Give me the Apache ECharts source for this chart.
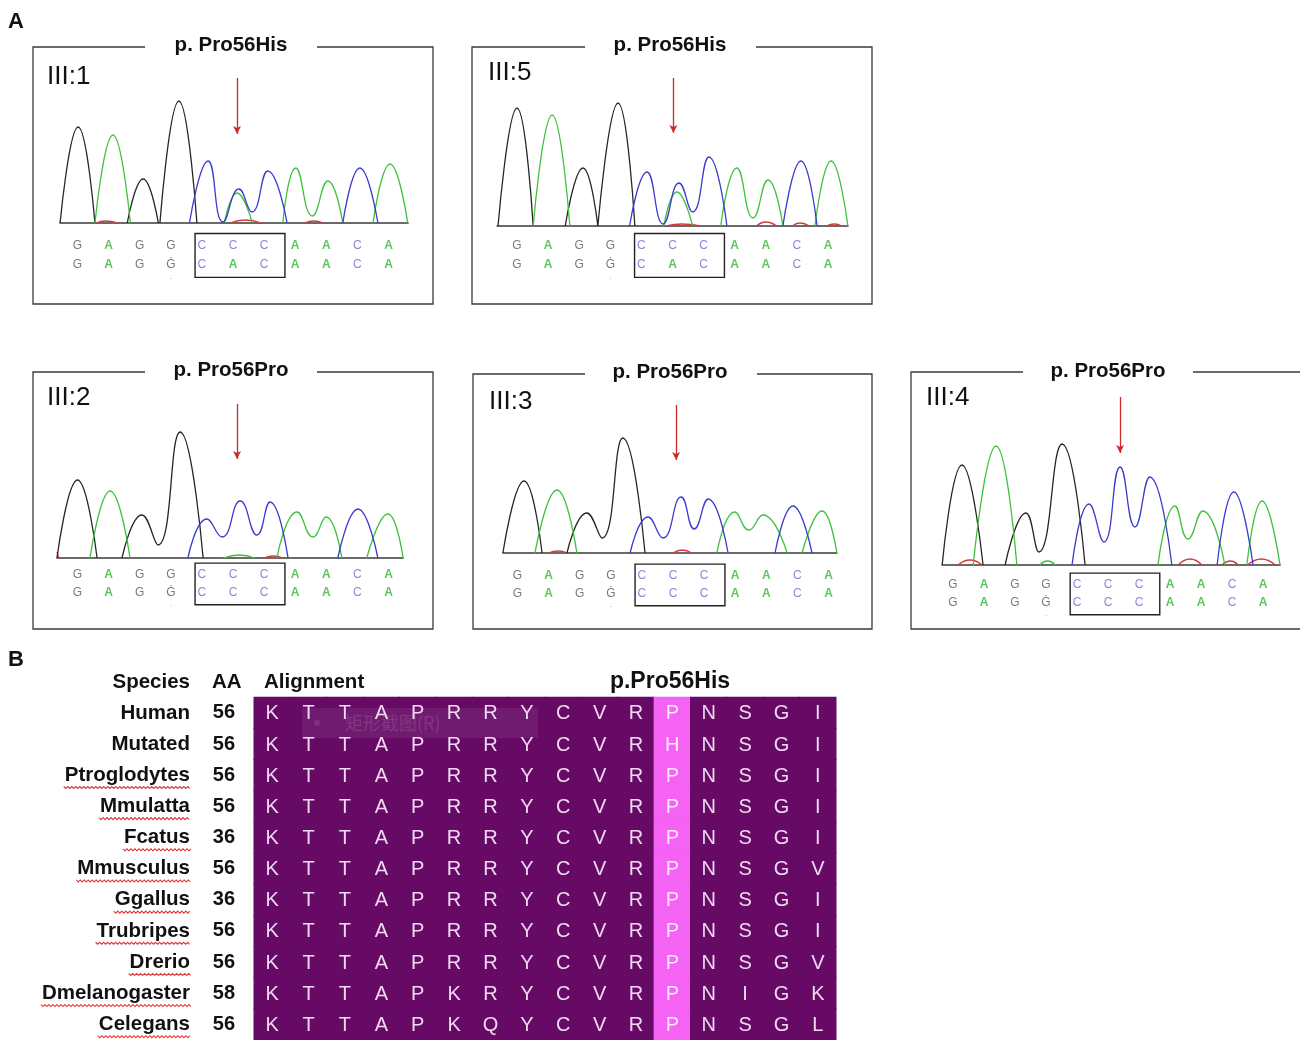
<!DOCTYPE html>
<html><head><meta charset="utf-8">
<script src="https://cdn.jsdelivr.net/npm/echarts@6/dist/echarts.min.js"></script>
<style>html,body{margin:0;padding:0;background:#fff}#c{width:1300px;height:1040px}</style>
</head><body><div id="c"></div>
<script>
// ---------------- DATA ----------------
const panelTitles = ['p. Pro56His','p. Pro56His','p. Pro56Pro','p. Pro56Pro','p. Pro56Pro'];
const panelLabels = ['III:1','III:5','III:2','III:3','III:4'];
const callRow1 = ['G','A','G','G','C','C','C','A','A','C','A'];
const callRowHis = ['G','A','G','Ġ','C','A','C','A','A','C','A'];
const callRowPro = ['G','A','G','Ġ','C','C','C','A','A','C','A'];
const callRow2 = [callRowHis, callRowHis, callRowPro, callRowPro, callRowPro];
const boxedBases = [3.78, 6.67];          // base index range of the boxed codon
const arrowPos = [5.13, 5.03, 5.13, 5.10, 5.39];
const arrowTop = [145, 148, 154, 148, 168];
const arrowTip = [89, 93, 99, 93, 112];

// traces: segments of [base position, signal]
const p1G = [[[-0.56,0],[0.02,96],[0.56,0]], [[1.6,0],[2.11,44],[2.6,0]], [[2.65,0],[3.26,122],[3.84,0]]];
const p1A = [[[0.56,0],[1.14,88],[1.7,0]], [[4.72,0],[5.13,30],[5.62,0]], [[6.6,0],[7.02,55],[7.55,7],[8.05,42],[8.53,0]], [[9.5,0],[10.05,59],[10.62,0]]];
const p1C = [[[3.6,0],[4.2,62],[4.68,1],[5.19,34],[5.61,11],[6.12,52],[6.74,0]], [[8.53,0],[9.08,55],[9.66,0]]];
const p1T = [[[0.6,0],[0.9,2],[1.3,0]], [[4.9,0],[5.4,3],[5.9,0]], [[7.3,0],[7.6,2],[7.9,0]]];

const p2G = [[[-0.61,0],[0,118],[0.52,0]], [[1.55,0],[2.12,58],[2.6,0]], [[2.6,0],[3.25,123],[3.79,0]]];
const p2A = [[[0.52,0],[1.13,111],[1.7,0]], [[4.72,0],[5.14,34],[5.65,0]], [[6.55,0],[7.07,58],[7.59,8],[8.07,46],[8.55,0]], [[9.58,0],[10.1,65],[10.64,0]]];
const p2C = [[[3.62,0],[4.18,54],[4.7,2],[5.21,43],[5.65,14],[6.17,69],[6.75,0]], [[8.55,0],[9.13,65],[9.65,0]]];
const p2T = [[[4.8,0],[5.3,2],[5.9,0]], [[7.7,0],[8.0,4],[8.35,0]], [[8.85,0],[9.1,3],[9.4,0]], [[9.95,0],[10.2,2],[10.45,0]]];

const p3G = [[[-0.66,0],[0,78],[0.63,0]], [[1.43,0],[2.07,43],[2.59,13],[3.3,126],[4.04,0]]];
const p3A = [[[0.4,0],[1.05,67],[1.69,0]], [[4.7,0],[5.2,3],[5.7,0]], [[6.41,0],[7.06,46],[7.57,21],[7.99,41],[8.5,0]], [[9.3,0],[9.98,44],[10.47,0]]];
const p3C = [[[3.55,0],[4.16,39],[4.65,21],[5.23,57],[5.77,23],[6.19,56],[6.77,0]], [[8.37,0],[9.02,49],[9.66,0]]];
const p3T = [[[-0.66,6],[-0.6,0]], [[6.0,0],[6.3,2],[6.6,0]]];

const p4G = [[[-0.47,0],[0.21,72],[0.79,0]], [[1.59,0],[2.23,40],[2.72,15],[3.39,115],[4.1,0]]];
const p4A = [[[0.56,0],[1.27,63],[1.91,0]], [[6.41,0],[6.99,41],[7.44,23],[7.89,38],[8.67,0]], [[9.15,0],[9.79,42],[10.27,0]]];
const p4C = [[[3.62,0],[4.2,36],[4.68,15],[5.26,56],[5.68,24],[6.13,54],[6.77,0]], [[8.28,0],[8.86,47],[9.47,0]]];
const p4T = [[[1.0,0],[1.3,2],[1.6,0]], [[5.0,0],[5.3,3],[5.6,0]]];

const p5G = [[[-0.35,0],[0.29,100],[0.97,0]], [[1.68,0],[2.35,52],[2.77,13],[3.52,121],[4.26,0]]];
const p5A = [[[0.65,0],[1.39,119],[2.06,0]], [[2.8,0],[3.05,4],[3.3,0]], [[6.61,0],[7.16,59],[7.58,26],[8.06,54],[8.77,0]], [[9.48,0],[9.97,64],[10.55,0]]];
const p5C = [[[3.84,0],[4.39,61],[4.87,23],[5.39,98],[5.87,38],[6.35,88],[7.06,0]], [[8.52,0],[9.06,73],[9.68,0]]];
const p5T = [[[0.16,0],[0.55,5],[0.94,0]], [[7.26,0],[7.65,6],[8.03,0]], [[8.68,0],[8.95,4],[9.2,0]], [[9.5,0],[9.95,6],[10.4,0]]];

const traceG = [p1G,p2G,p3G,p4G,p5G];
const traceA = [p1A,p2A,p3A,p4A,p5A];
const traceC = [p1C,p2C,p3C,p4C,p5C];
const traceT = [p1T,p2T,p3T,p4T,p5T];

// Panel B
const species = ['Human','Mutated','Ptroglodytes','Mmulatta','Fcatus','Mmusculus','Ggallus','Trubripes','Drerio','Dmelanogaster','Celegans'];
const aaNumber = ['56','56','56','56','36','56','36','56','56','58','56'];
const alignment = ['KTTAPRRYCVRPNSGI','KTTAPRRYCVRHNSGI','KTTAPRRYCVRPNSGI','KTTAPRRYCVRPNSGI','KTTAPRRYCVRPNSGI','KTTAPRRYCVRPNSGV','KTTAPRRYCVRPNSGI','KTTAPRRYCVRPNSGI','KTTAPRRYCVRPNSGV','KTTAPKRYCVRPNIGK','KTTAPKQYCVRPNSGL'];
const highlightCol = 11;
const misspelled = ['Ptroglodytes','Mmulatta','Fcatus','Mmusculus','Ggallus','Trubripes','Drerio','Dmelanogaster','Celegans'];

// ---------------- LAYOUT ----------------
const L = [
 {frame:[33,47,433,304], titleX:231, titleY:45, gap:[145,317], label:[47,77], base:223, x0:77.5, s:31.1, xr:[-0.56,10.63], rows:[246,265]},
 {frame:[472,47,872,304], titleX:670, titleY:45, gap:[585,756], label:[488,73], base:226, x0:517, s:31.1, xr:[-0.64,10.64], rows:[246,265]},
 {frame:[33,372,433,629], titleX:231, titleY:370, gap:[145,317], label:[47,398], base:558, x0:77.5, s:31.1, xr:[-0.66,10.47], rows:[575,593]},
 {frame:[473,374,872,629], titleX:670, titleY:372, gap:[585,757], label:[489,402], base:553, x0:517.5, s:31.1, xr:[-0.47,10.27], rows:[576,594]},
 {frame:[911,372,1330,629], titleX:1108, titleY:371, gap:[1023,1193], label:[926,398], base:565, x0:953, s:31.0, xr:[-0.35,10.55], rows:[585,603]}
];
const YMAX = 175;
const FONT = '"Liberation Sans", Arial, sans-serif';
const traceColors = {G:'#262626', A:'#3cc23c', C:'#3b3bcc', T:'#d43a3a'};
const textColors = {G:'#585858', 'Ġ':'#585858', A:'#33b833', C:'#6a6acc', '.':'#585858'};
const PURPLE = '#660a66', PINK = '#f463f4';

function flat(segs){
  const out = [];
  segs.forEach((seg,k)=>{ if(k>0) out.push([seg[0][0],'-']); seg.forEach(p=>out.push(p)); });
  return out;
}

const grids=[], xAxes=[], yAxes=[], series=[], graphics=[];
L.forEach((p,k)=>{
  const left = p.x0 + p.xr[0]*p.s, width = (p.xr[1]-p.xr[0])*p.s;
  grids.push({left:left, top:p.base-YMAX, width:width, height:YMAX});
  xAxes.push({type:'value', gridIndex:2*k, min:p.xr[0], max:p.xr[1], axisLabel:{show:false}, axisTick:{show:false}, splitLine:{show:false},
     axisLine:{show:true, lineStyle:{color:'#3a3a3a', width:1.6}}});
  yAxes.push({type:'value', gridIndex:2*k, min:0, max:YMAX, show:false});
  const dy = p.rows[1]-p.rows[0];
  grids.push({left:left, top:p.rows[0]-0.8*dy, width:width, height:2.6*dy});
  xAxes.push({type:'value', gridIndex:2*k+1, min:p.xr[0], max:p.xr[1], show:false});
  yAxes.push({type:'value', gridIndex:2*k+1, min:-0.8, max:1.8, inverse:true, show:false});

  [['G',traceG],['A',traceA],['C',traceC],['T',traceT]].forEach(([b,arr])=>{
    series.push({type:'line', xAxisIndex:2*k, yAxisIndex:2*k, data:flat(arr[k]), smooth:0.5, symbol:'none', showSymbol:false,
      connectNulls:false, clip:false, silent:true, z: b==='T'?1:3, lineStyle:{color:traceColors[b], width:1.3}});
  });
  series.push({type:'line', xAxisIndex:2*k, yAxisIndex:2*k, data:[], silent:true,
    markLine:{silent:true, symbol:['none','arrow'], symbolSize:[6,8], label:{show:false},
      lineStyle:{color:'#cc2a2a', width:1.3, type:'solid'},
      data:[[{coord:[arrowPos[k], arrowTop[k]]},{coord:[arrowPos[k], arrowTip[k]]}]]}});
  const pts = [];
  callRow1.forEach((b,i)=>pts.push({value:[i,0,b], label:{color:textColors[b], fontWeight: b==='A'?'bold':'normal'}}));
  callRow2[k].forEach((b,i)=>pts.push({value:[i,1,b], label:{color:textColors[b], fontWeight: b==='A'?'bold':'normal'}}));
  callRow2[k].forEach((b,i)=>{ if(b==='Ġ') pts.push({value:[i,1.6,'.'], label:{color:'#777', fontSize:8}}); });
  series.push({type:'scatter', xAxisIndex:2*k+1, yAxisIndex:2*k+1, data:pts, symbolSize:0, silent:true,
    label:{show:true, position:'inside', formatter:(d)=>d.value[2], fontSize:12, fontFamily:FONT},
    markArea:{silent:true, itemStyle:{color:'rgba(0,0,0,0)', borderColor:'#222', borderWidth:1.4},
      data:[[{coord:[boxedBases[0],-0.66]},{coord:[boxedBases[1],1.65]}]]}});

  const f = p.frame;
  graphics.push({type:'rect', shape:{x:f[0], y:f[1], width:f[2]-f[0], height:f[3]-f[1]}, style:{fill:'none', stroke:'#3a3a3a', lineWidth:1.3}, z:-10});
  graphics.push({type:'rect', shape:{x:p.gap[0], y:f[1]-4, width:p.gap[1]-p.gap[0], height:8}, style:{fill:'#fff'}, z:-9});
  graphics.push({type:'text', x:p.titleX, y:p.titleY, style:{text:panelTitles[k], font:'bold 20.5px '+FONT, fill:'#111', align:'center', verticalAlign:'middle'}, z:-8});
  graphics.push({type:'text', x:p.label[0], y:p.label[1], style:{text:panelLabels[k], font:'26px '+FONT, fill:'#111', align:'left', verticalAlign:'middle'}, z:-8});
});

// Panel B grid
const bIdx = 10;
grids.push({left:254, top:697.3, width:582, height:31.4*11});
xAxes.push({type:'category', gridIndex:bIdx, data:alignment[0].split('').map((_,i)=>String(i)), show:false});
yAxes.push({type:'category', gridIndex:bIdx, data:species, inverse:true, axisLine:{show:false}, axisTick:{show:false},
  axisLabel:{margin:64, fontSize:20.5, fontWeight:'bold', fontFamily:FONT, color:'#111'}});
yAxes.push({type:'category', gridIndex:bIdx, data:species, inverse:true, position:'left', axisLine:{show:false}, axisTick:{show:false},
  axisLabel:{margin:19, fontSize:20, fontWeight:'bold', fontFamily:FONT, color:'#111', formatter:(v,i)=>aaNumber[i]}});
const cells = [];
alignment.forEach((row,r)=>row.split('').forEach((ch,c)=>cells.push([c,r])));
series.push({type:'custom', xAxisIndex:bIdx, yAxisIndex:bIdx, data:cells, silent:true, encode:{x:0,y:1},
  renderItem:(params, api)=>{
    const c = api.value(0), r = api.value(1);
    const pt = api.coord([c,r]); const sz = api.size([1,1]);
    const hl = c===highlightCol;
    return {type:'group', children:[
      {type:'rect', shape:{x:pt[0]-sz[0]/2-0.5, y:pt[1]-sz[1]/2-0.5, width:sz[0]+1, height:sz[1]+1}, style:{fill: hl?PINK:PURPLE}},
      {type:'text', style:{text:alignment[r][c], x:pt[0], y:pt[1]+1, align:'center', verticalAlign:'middle', fill: hl?'#ffe6ff':'#f2d8f2', font:'20px '+FONT}, z2:5}
    ]};
  }});

graphics.push({type:'text', x:8, y:22, style:{text:'A', font:'bold 22px '+FONT, fill:'#111', verticalAlign:'middle'}});
graphics.push({type:'text', x:8, y:660, style:{text:'B', font:'bold 22px '+FONT, fill:'#111', verticalAlign:'middle'}});
graphics.push({type:'text', x:190, y:682, style:{text:'Species', font:'bold 20.5px '+FONT, fill:'#111', align:'right', verticalAlign:'middle'}});
graphics.push({type:'text', x:212, y:682, style:{text:'AA', font:'bold 20.5px '+FONT, fill:'#111', align:'left', verticalAlign:'middle'}});
graphics.push({type:'text', x:264, y:682, style:{text:'Alignment', font:'bold 20.5px '+FONT, fill:'#111', align:'left', verticalAlign:'middle'}});
graphics.push({type:'text', x:670, y:682, style:{text:'p.Pro56His', font:'bold 23px '+FONT, fill:'#111', align:'center', verticalAlign:'middle'}});
graphics.push({type:'rect', shape:{x:302, y:708, width:236, height:30}, style:{fill:'rgba(255,255,255,0.07)'}, z:20});
graphics.push({type:'circle', shape:{cx:317, cy:723, r:3}, style:{fill:'rgba(255,255,255,0.10)'}, z:20});
graphics.push({type:'text', x:345, y:723, style:{text:'矩形截图(R)', font:'18px "Noto Sans CJK SC"', fill:'rgba(255,255,255,0.12)', verticalAlign:'middle'}, z:20});

const chart = echarts.init(document.getElementById('c'), null, {renderer:'canvas'});
chart.setOption({animation:false, backgroundColor:'#fff', grid:grids, xAxis:xAxes, yAxis:yAxes, series:series, graphic:graphics});

const ctx = document.createElement('canvas').getContext('2d');
ctx.font = 'bold 20.5px "Liberation Sans"';
const waves = [];
misspelled.forEach(name=>{
  const y = chart.convertToPixel({yAxisIndex:bIdx}, name) + 12;
  const w = ctx.measureText(name).width;
  const x1 = 191, x0 = x1 - w - 2;
  const pts = [];
  for (let x=x0, j=0; x<=x1; x+=2, j++) pts.push([x, y + (j%2 ? 1.3 : -0.7)]);
  waves.push({type:'polyline', shape:{points:pts}, style:{stroke:'#e03a3a', lineWidth:1.1, fill:null}, z:30});
});
chart.setOption({graphic:graphics.concat(waves)});
</script></body></html>
